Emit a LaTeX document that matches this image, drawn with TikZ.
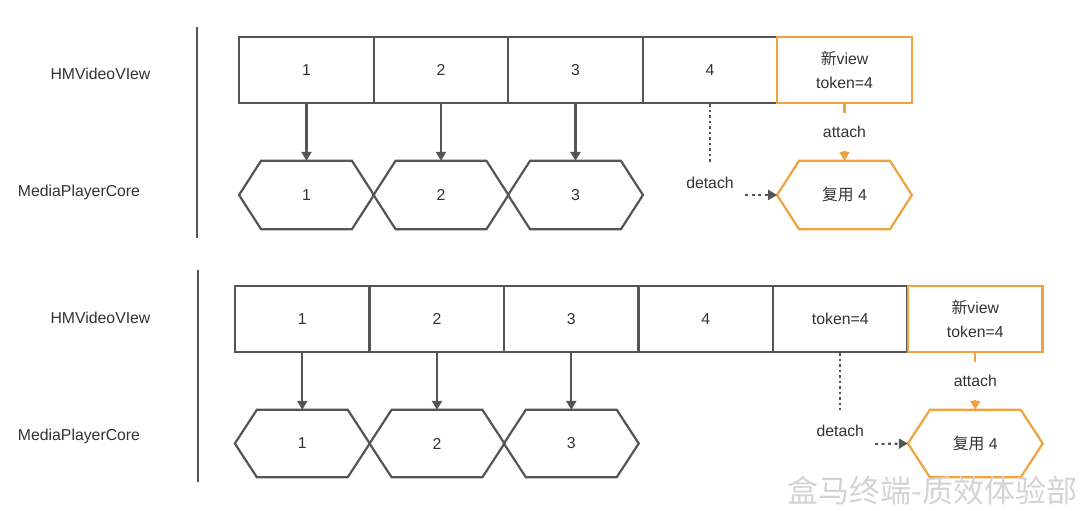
\documentclass[tikz,border=0pt]{standalone}
\usepackage{fontspec}
\setmainfont{Liberation Sans}
\newfontfamily\cjk{Noto Sans CJK SC}
\usetikzlibrary{arrows.meta}
\definecolor{lc}{HTML}{555555}
\definecolor{oc}{HTML}{F0A23E}
\definecolor{tc}{HTML}{333333}
\definecolor{wm}{HTML}{D4D4D4}
\newcommand\hexpath[1]{(#1.west) -- ([xshift=22pt]#1.north west) -- ([xshift=-22pt]#1.north east) -- (#1.east) -- ([xshift=-22pt]#1.south east) -- ([xshift=22pt]#1.south west) -- cycle}
\tikzset{
  txt/.style={text=tc, font=\fontsize{15.8}{18}\selectfont, inner sep=0pt},
  cell/.style={txt, draw=lc, line width=2.2pt, minimum width=134.5pt, minimum height=66pt, align=center},
  ocell/.style={cell, draw=oc},
  hexn/.style={txt, minimum width=134.5pt, minimum height=68pt},
  hexd/.style={draw=lc, line width=2.2pt, line join=miter},
  ohexd/.style={hexd, draw=oc},
  arr/.style={draw=lc, line width=2.2pt, -{Triangle[length=9pt,width=10pt]}},
  dotln/.style={draw=lc, line width=2.2pt, dash pattern=on 2.5pt off 3pt},
  darr/.style={draw=lc, line width=2.2pt, dash pattern=on 3pt off 3.5pt, -{Triangle[length=9pt,width=10pt]}},
  oln/.style={draw=oc, line width=2.2pt},
  oarr/.style={draw=oc, line width=2.2pt, -{Triangle[length=9pt,width=10pt]}},
  sep/.style={draw=lc, line width=2pt},
}
\begin{document}
\begin{tikzpicture}[x=1pt,y=-1pt]
\useasboundingbox[fill=white] (0,0) rectangle (1080,511);
% ---------- top ----------
\draw[sep] (197,27) coordinate (s1a) -- (197,238) coordinate (s1b);
\node[txt] (lv1) at (100.5,74) {HMVideoVIew};
\node[txt] (lm1) at (79,192) {MediaPlayerCore};
\node[cell] (a1) at (306.5,70) {1};
\node[cell] (a2) at (441,70) {2};
\node[cell] (a3) at (575.5,70) {3};
\node[cell] (a4) at (710,70) {4};
\node[ocell] (a5) at (844.5,70) {\cjk 新\fontspec{Liberation Sans}view\\[6pt]token=4};
\node[hexn] (b1) at (306.5,195) {1};
\node[hexn] (b2) at (441,195) {2};
\node[hexn] (b3) at (575.5,195) {3};
\node[hexn] (b5) at (844.5,195) {{\cjk 复用} 4};
\draw[hexd] \hexpath{b1};
\draw[hexd] \hexpath{b2};
\draw[hexd] \hexpath{b3};
\draw[ohexd] \hexpath{b5};
\draw[arr] (a1.south) -- (b1.north);
\draw[arr] (a2.south) -- (b2.north);
\draw[arr] (a3.south) -- (b3.north);
\coordinate (d1) at (710,163);
\draw[dotln] (a4.south) -- (d1);
\node[txt] (dt1) at (710,183) {detach};
\coordinate (d1s) at (745,195);
\draw[darr] (d1s) -- (b5.west);
\coordinate (t1) at (844.5,113);
\draw[oln] (a5.south) -- (t1);
\node[txt] (at1) at (844.5,132) {attach};
\coordinate (t1s) at (844.5,151);
\draw[oarr] (t1s) -- (b5.north);
% ---------- bottom ----------
\draw[sep] (198,270) coordinate (s2a) -- (198,482) coordinate (s2b);
\node[txt] (lv2) at (100.5,318) {HMVideoVIew};
\node[txt] (lm2) at (79,436) {MediaPlayerCore};
\node[cell] (c1) at (302.3,319) {1};
\node[cell] (c2) at (437,319) {2};
\node[cell] (c3) at (571.3,319) {3};
\node[cell] (c4) at (705.8,319) {4};
\node[cell] (c5) at (840.3,319) {token=4};
\node[ocell] (c6) at (975.3,319) {\cjk 新\fontspec{Liberation Sans}view\\[6pt]token=4};
\node[hexn,minimum height=67pt] (e1) at (302.3,443.5) {1};
\node[hexn,minimum height=67pt] (e2) at (437,443.5) {2};
\node[hexn,minimum height=67pt] (e3) at (571.3,443.5) {3};
\node[hexn,minimum height=67pt] (e6) at (975.3,443.5) {{\cjk 复用} 4};
\draw[hexd] \hexpath{e1};
\draw[hexd] \hexpath{e2};
\draw[hexd] \hexpath{e3};
\draw[ohexd] \hexpath{e6};
\draw[arr] (c1.south) -- (e1.north);
\draw[arr] (c2.south) -- (e2.north);
\draw[arr] (c3.south) -- (e3.north);
\coordinate (d2) at (840.3,410);
\draw[dotln] (c5.south) -- (d2);
\node[txt] (dt2) at (840.3,431) {detach};
\coordinate (d2s) at (875,444);
\draw[darr] (d2s) -- (e6.west);
\coordinate (t2) at (975.3,362);
\draw[oln] (c6.south) -- (t2);
\node[txt] (at2) at (975.3,381) {attach};
\coordinate (t2s) at (975.3,400);
\draw[oarr] (t2s) -- (e6.north);
% watermark
\node[inner sep=0pt, text=wm, font=\cjk\fontsize{31}{33}\selectfont] (wmk) at (932.5,491) {盒马终端-质效体验部};
\end{tikzpicture}
\end{document}
